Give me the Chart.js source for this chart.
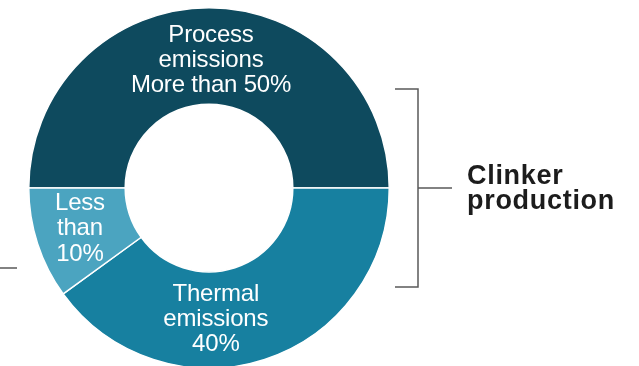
<!DOCTYPE html>
<html>
<head>
<meta charset="utf-8">
<script src="https://cdn.jsdelivr.net/npm/chart.js@4.4.1/dist/chart.umd.min.js"></script>
<style>
  html, body { margin: 0; padding: 0; background: #ffffff; overflow: hidden; }
  #wrap { position: relative; width: 639px; height: 370px; }
</style>
</head>
<body>
<div id="wrap"><canvas id="c"></canvas></div>
<script>
// Shares of cement-production CO2 emissions
const categories = ['Process emissions', 'Thermal emissions', 'Other'];
const shares = [50, 40, 10];
const sliceLabels = [
  ['Process', 'emissions', 'More than 50%'],
  ['Thermal', 'emissions', '40%'],
  ['Less', 'than', '10%']
];
const sliceColors = ['#0e4a5e', '#1780a0', '#4ba4c0'];
const bracketLabel = ['Clinker', 'production'];

// Nudges of each text block away from the slice's centre point
const labelNudge = [
  { dx: 2, dy: 4.5 },
  { dx: -34, dy: 6 },
  { dx: -3.5, dy: 0 }
];

const sliceText = {
  id: 'sliceText',
  afterDatasetsDraw(chart) {
    const ctx = chart.ctx;
    const meta = chart.getDatasetMeta(0);
    ctx.save();
    ctx.fillStyle = '#ffffff';
    ctx.font = '24px "Liberation Sans", Arial, Helvetica, sans-serif';
    if ('letterSpacing' in ctx) ctx.letterSpacing = '-0.2px';
    ctx.textAlign = 'center';
    ctx.textBaseline = 'middle';
    const lh = 25.3;
    meta.data.forEach((arc, i) => {
      const p = arc.getCenterPoint();
      const lines = sliceLabels[i];
      const cx = p.x + labelNudge[i].dx;
      const cy = p.y + labelNudge[i].dy;
      const top = cy - (lines.length - 1) * lh / 2;
      lines.forEach((t, k) => ctx.fillText(t, cx, top + k * lh));
    });
    ctx.restore();
  }
};

// Bracket grouping the two clinker slices, plus the leader on the left
const bracket = {
  id: 'bracket',
  afterDraw(chart) {
    const ctx = chart.ctx;
    const meta = chart.getDatasetMeta(0);
    const arc = meta.data[0];
    const cy = arc.y;
    const half = 99;
    const xv = 418;
    ctx.save();
    ctx.strokeStyle = '#5a5a5a';
    ctx.lineWidth = 1.5;
    ctx.beginPath();
    ctx.moveTo(395, cy - half);
    ctx.lineTo(xv, cy - half);
    ctx.lineTo(xv, cy + half);
    ctx.lineTo(395, cy + half);
    ctx.moveTo(xv, cy);
    ctx.lineTo(452, cy);
    ctx.moveTo(0, 268);
    ctx.lineTo(17, 268);
    ctx.stroke();

    ctx.fillStyle = '#1c1c1c';
    ctx.font = 'bold 27px "Liberation Sans", Arial, Helvetica, sans-serif';
    if ('letterSpacing' in ctx) ctx.letterSpacing = '0.7px';
    ctx.textAlign = 'left';
    ctx.textBaseline = 'alphabetic';
    ctx.fillText(bracketLabel[0], 467, 183.5);
    ctx.fillText(bracketLabel[1], 467, 208.5);
    ctx.restore();
  }
};

new Chart(document.getElementById('c'), {
  type: 'doughnut',
  data: {
    labels: categories,
    datasets: [{
      data: shares,
      backgroundColor: sliceColors,
      borderColor: '#ffffff',
      borderWidth: 1.5,
      hoverOffset: 0
    }]
  },
  options: {
    responsive: true,
    maintainAspectRatio: false,
    animation: false,
    events: [],
    rotation: -90,
    cutout: '46.5%',
    layout: { padding: { left: 28, right: 249, top: 7, bottom: 1 } },
    plugins: {
      legend: { display: false },
      tooltip: { enabled: false },
      title: { display: false }
    }
  },
  plugins: [sliceText, bracket]
});
</script>
</body>
</html>
